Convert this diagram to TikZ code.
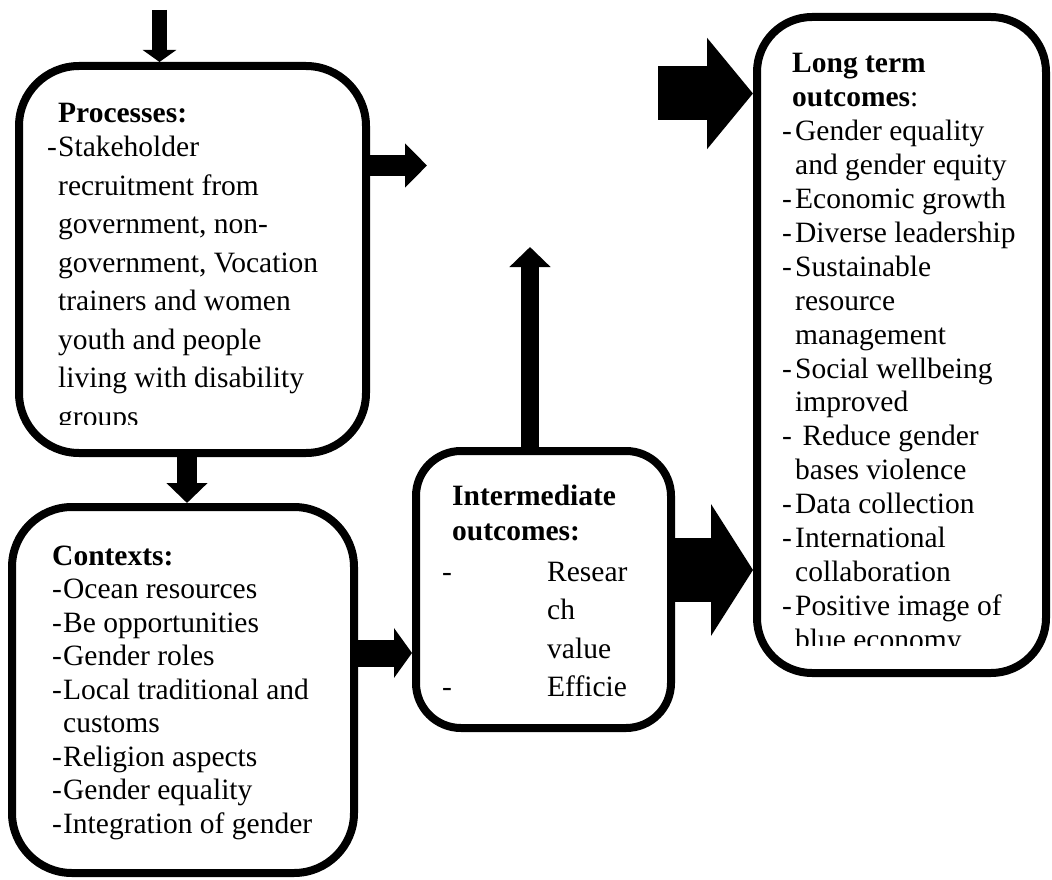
\documentclass[tikz,border=0pt]{standalone}
\usepackage{fontspec}
\setmainfont{Liberation Serif}
\usetikzlibrary{arrows.meta}

\newcommand{\dsh}[1][11pt]{\makebox[#1][l]{-}}
\newcommand{\boxtext}[2]{\parbox[t]{300pt}{\fontsize{29.5}{#1}\selectfont\raggedright #2}}

\begin{document}
\begin{tikzpicture}[
        x=1pt, y=-1pt,
        box/.style={draw, line width=8pt, rounded corners=#1, inner sep=0pt},
        box/.default=55pt,
        txt/.style={anchor=base west, inner sep=0pt},
        blk/.style n args={3}{line width=#1, -{Triangle[width=#2, length=#3]}},
    ]
    \useasboundingbox (0,0) rectangle (1052,880);

    \node[box=60pt, minimum width=347pt, minimum height=387pt](proc) at (192.5,259.5) {};
    \node[box=60pt, minimum width=342pt, minimum height=366pt](ctx) at (183,690) {};
    \node[box=45pt, minimum width=255pt, minimum height=277pt](inter) at (543.5,589.5) {};
    \node[box=55pt, minimum width=289pt, minimum height=656pt](lterm) at (901.5,345) {};

    \coordinate (src) at (159.5,10);
    \coordinate (pout) at (427,165.5);
    \coordinate (pc) at (187,0);
    \coordinate (cin) at (0,653);
    \coordinate (up) at (530,247);
    \coordinate (lin) at (658,93.5);
    \coordinate (iout) at (0,570);

    \draw[blk={15pt}{33pt}{12pt}] (src) -- (src |- proc.north);
    \draw[blk={21pt}{43pt}{22pt}] (proc.east |- pout) -- (pout);
    \draw[blk={20pt}{40pt}{20pt}] (pc |- proc.south) -- (pc |- ctx.north);
    \draw[blk={27pt}{49pt}{18pt}] (ctx.east |- cin) -- (inter.west |- cin);
    \draw[blk={18pt}{40pt}{20pt}] (up |- inter.north) -- (up);
    \draw[blk={54pt}{109pt}{46pt}] (lin) -- (lin -| lterm.west);
    \draw[blk={64pt}{130pt}{42pt}] (inter.east |- iout) -- (iout -| lterm.west);

    \begin{scope}
    \clip (20,70) rectangle (365,424);
    \node[txt](proctxt) at (47,123) {\boxtext{38.5pt}{\hspace*{11pt}\textbf{Processes:}\\[-4.5pt]
        \dsh Stakeholder\\
        \hspace*{11pt}recruitment from\\
        \hspace*{11pt}government, non-\\
        \hspace*{11pt}government, Vocation\\
        \hspace*{11pt}trainers and women\\
        \hspace*{11pt}youth and people\\
        \hspace*{11pt}living with disability\\
        \hspace*{11pt}groups}};
    \end{scope}

    \node[txt](ctxtxt) at (52,565) {\boxtext{33.5pt}{\textbf{Contexts:}\\
        \dsh Ocean resources\\
        \dsh Be opportunities\\
        \dsh Gender roles\\
        \dsh Local traditional and\\
        \hspace*{11pt}customs\\
        \dsh Religion aspects\\
        \dsh Gender equality\\
        \dsh Integration of gender}};

    \node[txt](intertxt) at (442,505) {\boxtext{38.5pt}{\hspace*{10pt}\textbf{Intermediate}\\[-3.5pt]
        \hspace*{10pt}\textbf{outcomes:}\\[2.5pt]
        \dsh[105pt]Resear\\
        \hspace*{105pt}ch\\
        \hspace*{105pt}value\\
        \dsh[105pt]Efficie}};

    \begin{scope}
    \clip (758,20) rectangle (1045,645);
    \node[txt](ltermtxt) at (782,73) {\boxtext{33.9pt}{\hspace*{10pt}\textbf{Long term}\\
        \hspace*{10pt}\textbf{outcomes}:\\
        \dsh[13pt]Gender equality\\
        \hspace*{13pt}and gender equity\\
        \dsh[13pt]Economic growth\\
        \dsh[13pt]Diverse leadership\\
        \dsh[13pt]Sustainable\\
        \hspace*{13pt}resource\\
        \hspace*{13pt}management\\
        \dsh[13pt]Social wellbeing\\
        \hspace*{13pt}improved\\
        \dsh[13pt]\ Reduce gender\\
        \hspace*{13pt}bases violence\\
        \dsh[13pt]Data collection\\
        \dsh[13pt]International\\
        \hspace*{13pt}collaboration\\
        \dsh[13pt]Positive image of\\
        \hspace*{13pt}blue economy}};
    \end{scope}
\end{tikzpicture}
\end{document}
